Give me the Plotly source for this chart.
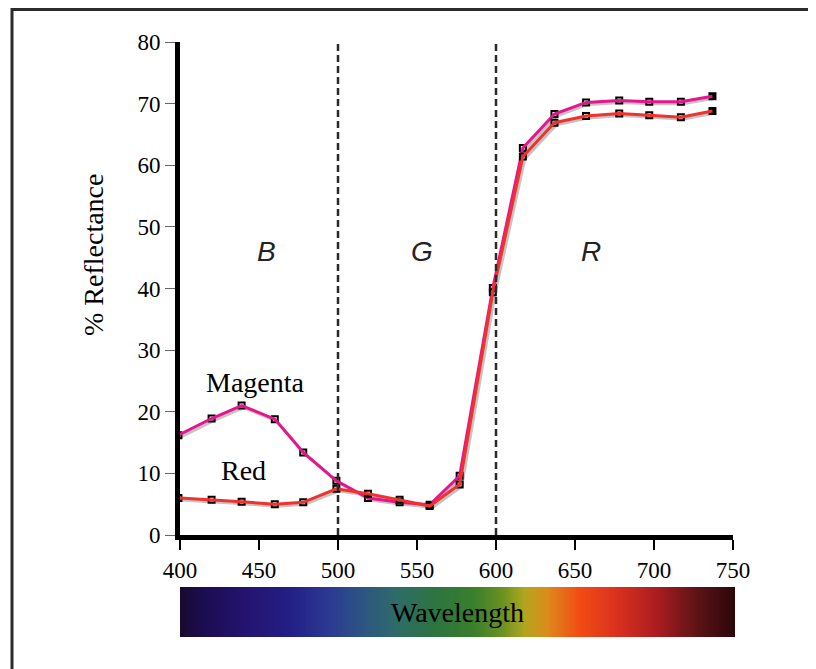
import numpy as np
import plotly.graph_objects as go

# wavelengths (nm) of the sample points
wavelength = [399, 420, 439, 460, 478, 499, 519, 539, 558, 577,
              598, 617, 637, 657, 678, 697, 717, 737]

magenta = [16.2, 18.9, 21.0, 18.8, 13.4, 8.8, 6.0, 5.3, 4.9, 9.6,
           40.1, 62.8, 68.3, 70.2, 70.5, 70.3, 70.3, 71.2]
red = [6.0, 5.7, 5.4, 5.0, 5.3, 7.5, 6.7, 5.7, 4.7, 8.2,
       39.4, 61.4, 66.9, 68.0, 68.4, 68.1, 67.8, 68.8]

band_edges = [500, 600]
band_labels = ["B", "G", "R"]
band_label_x = [455, 553, 660]

x_ticks = [400, 450, 500, 550, 600, 650, 700, 750]
y_ticks = [0, 10, 20, 30, 40, 50, 60, 70, 80]

# visible spectrum strip under the chart
spectrum_stops = [
    (0.00, "#190a30"), (0.05, "#1c0d55"), (0.12, "#241470"),
    (0.20, "#231f85"), (0.27, "#2b3a92"), (0.33, "#2d5582"),
    (0.39, "#2e6c68"), (0.46, "#2d7440"), (0.53, "#3a7f2c"),
    (0.58, "#6a9022"), (0.62, "#b0a61e"), (0.66, "#dc8c1c"),
    (0.72, "#f24b14"), (0.79, "#d8301f"), (0.86, "#a91c20"),
    (0.93, "#5e1416"), (1.00, "#2a060a"),
]

W, H = 816, 669
OFF = 8  # page body margin
SERIF = "Liberation Serif, Times New Roman, serif"


def px_x(p):
    return (p - OFF) / W


def px_y(p):
    return 1 - (p - OFF) / H


fig = go.Figure()

# drop shadows, drawn on a slightly shifted hidden axis pair
for vals in (magenta, red):
    fig.add_trace(go.Scatter(x=wavelength, y=vals, mode="lines",
                             line=dict(color="#c4c4c4", width=3),
                             xaxis="x", yaxis="y", hoverinfo="skip",
                             showlegend=False))

for vals, col in ((magenta, "#e8148c"), (red, "#f2302c")):
    fig.add_trace(go.Scatter(x=wavelength[:-1], y=vals[:-1], mode="markers",
                             marker=dict(symbol="square-open", size=6,
                                         color="black", line=dict(width=2)),
                             xaxis="x3", yaxis="y3", showlegend=False))
    fig.add_trace(go.Scatter(x=wavelength[-1:], y=vals[-1:], mode="markers",
                             marker=dict(symbol="square", size=8, color="black"),
                             xaxis="x3", yaxis="y3", showlegend=False))
    fig.add_trace(go.Scatter(x=wavelength, y=vals, mode="lines",
                             line=dict(color=col, width=3),
                             xaxis="x3", yaxis="y3", showlegend=False))

strip = np.linspace(0, 1, 300)
fig.add_trace(go.Heatmap(z=[strip], x=strip, y=[0], colorscale=spectrum_stops,
                         showscale=False, xaxis="x2", yaxis="y2",
                         hoverinfo="skip"))

for edge in band_edges:
    fig.add_shape(type="line", x0=edge, x1=edge, y0=0, y1=80,
                  xref="x3", yref="y3",
                  line=dict(color="#2a2a2a", width=2.5, dash="7px,4px"))

for lab, bx in zip(band_labels, band_label_x):
    fig.add_annotation(x=bx, y=46, xref="x3", yref="y3", text=lab,
                       showarrow=False,
                       font=dict(family="Liberation Sans, Arial", size=28,
                                 color="#222", style="italic"))

fig.add_annotation(x=448, y=24.8, xref="x3", yref="y3", text="Magenta",
                   showarrow=False, font=dict(family=SERIF, size=28, color="black"))
fig.add_annotation(x=440, y=10.4, xref="x3", yref="y3", text="Red",
                   showarrow=False, font=dict(family=SERIF, size=28, color="black"))
fig.add_annotation(x=0.5, y=0.5, xref="x2 domain", yref="y2 domain",
                   text="Wavelength", showarrow=False,
                   font=dict(family=SERIF, size=28, color="black"))
fig.add_annotation(x=px_x(93), y=px_y(255), xref="paper", yref="paper",
                   xanchor="center", yanchor="middle",
                   text="% Reflectance", textangle=-90, showarrow=False,
                   font=dict(family=SERIF, size=28, color="black"))

# outer frame
fig.add_shape(type="rect", xref="paper", yref="paper",
              x0=px_x(12), x1=1.1, y0=-0.1, y1=px_y(9.5),
              line=dict(color="#2b2b2b", width=3))

x_dom = [px_x(180), px_x(733)]
y_dom = [px_y(535), px_y(42)]
dx, dy = 1.3, 0.33

fig.update_layout(
    width=W, height=H,
    margin=dict(l=0, r=0, t=0, b=0, autoexpand=False),
    paper_bgcolor="white", plot_bgcolor="white",
    xaxis=dict(domain=x_dom, range=[400 - dx, 750 - dx], visible=False,
               anchor="y", automargin=False),
    yaxis=dict(domain=y_dom, range=[0 + dy, 80 + dy], visible=False,
               anchor="x", automargin=False),
    xaxis3=dict(overlaying="x", range=[400, 750], anchor="y3",
                tickvals=x_ticks, ticks="outside", ticklen=10, tickwidth=1.5,
                tickcolor="black", showline=True, linewidth=5,
                linecolor="black", showgrid=False, zeroline=False,
                automargin=False,
                tickfont=dict(family=SERIF, size=23, color="black")),
    yaxis3=dict(overlaying="y", range=[0, 80], anchor="x3",
                tickvals=y_ticks, ticks="outside", ticklen=10, tickwidth=1,
                tickcolor="#666", showline=True, linewidth=5,
                linecolor="black", showgrid=False, zeroline=False,
                automargin=False,
                tickfont=dict(family=SERIF, size=23, color="black")),
    xaxis2=dict(domain=[px_x(180), px_x(735)], range=[0, 1], visible=False,
                anchor="y2", automargin=False),
    yaxis2=dict(domain=[px_y(637), px_y(587)], visible=False, anchor="x2",
                automargin=False),
)

fig.write_html("out.html")
